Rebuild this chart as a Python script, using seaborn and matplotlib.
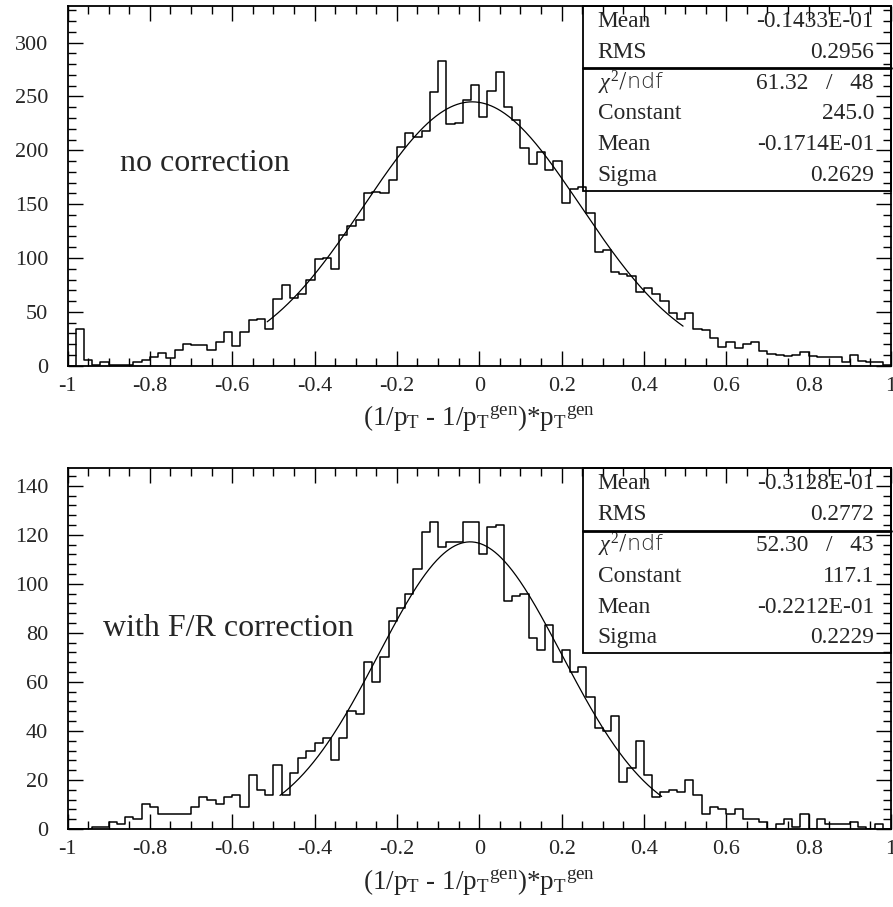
import numpy as np
import pandas as pd
import matplotlib
matplotlib.use("Agg")
import matplotlib.pyplot as plt
import seaborn as sns
from matplotlib.patches import Rectangle
from matplotlib.ticker import MultipleLocator, FuncFormatter

sns.set_style("ticks")
plt.rcParams["font.family"] = ["Liberation Serif", "DejaVu Serif"]
plt.rcParams["mathtext.fontset"] = "custom"
plt.rcParams["mathtext.rm"] = "Liberation Serif"
plt.rcParams["mathtext.it"] = "Liberation Serif:italic"
plt.rcParams["mathtext.bf"] = "Liberation Serif:bold"
plt.rcParams["axes.unicode_minus"] = False

# 100 bins of width 0.02 on [-1, 1]
bin_edges = [round(-1.0 + 0.02 * i, 2) for i in range(101)]
bin_centers = [round(-0.99 + 0.02 * i, 3) for i in range(100)]

counts_nocorr = [
    0, 34, 5, 1, 3, 1, 1, 1, 3, 5,
    8, 12, 7, 15, 20, 19, 19, 15, 22, 31,
    18, 31, 42, 43, 34, 62, 75, 63, 67, 80,
    99, 100, 90, 121, 130, 135, 160, 161, 160, 172,
    203, 216, 212, 218, 254, 283, 224, 225, 247, 261,
    231, 255, 273, 240, 228, 202, 187, 198, 182, 190,
    151, 164, 166, 142, 106, 107, 87, 85, 83, 68,
    72, 67, 60, 49, 43, 49, 34, 33, 26, 17,
    22, 16, 20, 22, 14, 11, 10, 9, 10, 13,
    9, 8, 8, 8, 3, 10, 4, 3, 3, 1,
]

counts_frcorr = [
    0, 0, 0, 1, 1, 3, 2, 5, 4, 10,
    9, 6, 6, 6, 6, 9, 13, 12, 10, 13,
    14, 9, 22, 16, 14, 26, 14, 23, 29, 32,
    35, 37, 28, 37, 48, 47, 68, 60, 70, 85,
    90, 96, 106, 121, 125, 115, 117, 117, 125, 125,
    112, 123, 124, 93, 95, 96, 78, 73, 83, 68,
    73, 64, 66, 54, 41, 40, 46, 19, 25, 36,
    22, 13, 15, 16, 15, 20, 14, 6, 9, 8,
    6, 8, 4, 4, 3, 0, 2, 4, 1, 6,
    0, 4, 2, 2, 2, 3, 1, 0, 2, 0,
]

# Gaussian fit parameters: constant, mean, sigma
fit_nocorr = [245.0, -0.01714, 0.2629]
fit_frcorr = [117.1, -0.02212, 0.2229]
fit_range_nocorr = [-0.515, 0.495]
fit_range_frcorr = [-0.484, 0.443]

stat_names = ["Mean", "RMS", r"$\chi^{2}$/ndf", "Constant", "Mean", "Sigma"]
stat_values_nocorr = ["-0.1433E-01", "0.2956", "61.32   /   48", "245.0", "-0.1714E-01", "0.2629"]
stat_values_frcorr = ["-0.3128E-01", "0.2772", "52.30   /   43", "117.1", "-0.2212E-01", "0.2229"]

panel_labels = ["no correction", "with F/R correction"]
x_title = (r"(1/p$_\mathregular{T}$ - 1/p$_\mathregular{T}$$^\mathregular{gen}$)"
           r"*p$_\mathregular{T}$$^\mathregular{gen}$")

W, H = 893, 907
fig = plt.figure(figsize=(W / 100, H / 100), dpi=100)


def axes_rect(left_px, right_px, top_px, bottom_px):
    return [left_px / W, 1 - bottom_px / H, (right_px - left_px) / W, (bottom_px - top_px) / H]


ax_top = fig.add_axes(axes_rect(67.5, 891, 6, 365.7))
ax_bot = fig.add_axes(axes_rect(67.5, 891, 468.3, 829))


def fmt(v, _pos):
    v = round(v, 6)
    if v == 0:
        return "0"
    return f"{v:g}"


def draw_panel(ax, counts, fit, fit_range, ymax, ymajor, yminor, label, label_xy,
               values, box_bottom, sep_y):
    df = pd.DataFrame({"x": bin_centers, "n": counts})
    sns.histplot(data=df, x="x", weights="n", bins=bin_edges, element="step",
                 fill=False, color="black", linewidth=1.1, ax=ax)

    c, mu, sig = fit
    xs = np.linspace(fit_range[0], fit_range[1], 400)
    ys = c * np.exp(-0.5 * ((xs - mu) / sig) ** 2)
    ax.plot(xs, ys, color="black", lw=0.9)

    ax.set_xlim(-1, 1)
    ax.set_ylim(0, ymax)
    ax.set_xlabel("")
    ax.set_ylabel("")
    ax.xaxis.set_major_locator(MultipleLocator(0.2))
    ax.xaxis.set_minor_locator(MultipleLocator(0.05))
    ax.yaxis.set_major_locator(MultipleLocator(ymajor))
    ax.yaxis.set_minor_locator(MultipleLocator(yminor))
    ax.xaxis.set_major_formatter(FuncFormatter(fmt))
    ax.yaxis.set_major_formatter(FuncFormatter(fmt))
    ax.tick_params(which="both", direction="in", top=True, right=True,
                   width=1.0, color="black")
    ax.tick_params(which="major", length=11)
    ax.tick_params(which="minor", length=5.8)
    ax.tick_params(axis="x", which="major", labelsize=16, pad=8)
    ax.tick_params(axis="y", which="major", labelsize=16, pad=14)
    for s in ax.spines.values():
        s.set_linewidth(1.3)
        s.set_color("black")

    ax.text(label_xy[0], label_xy[1], label, transform=ax.transAxes,
            fontsize=23, ha="left", va="center")

    ax.text(0.5, -0.165, x_title, transform=ax.transAxes, fontsize=19.5,
            ha="center", va="baseline")

    # statistics box
    bx = 0.6256
    ax.add_patch(Rectangle((bx, box_bottom), 1 - bx, 1 - box_bottom,
                           transform=ax.transAxes, fill=False, lw=1.3,
                           edgecolor="black", clip_on=False, zorder=5))
    ax.plot([bx, 1], [sep_y, sep_y], transform=ax.transAxes, color="black",
            lw=2.0, clip_on=False, zorder=5)
    rh = (1 - box_bottom) / 6
    for i, (name, val) in enumerate(zip(stat_names, values)):
        yc = 1 - (i + 0.5) * rh
        if i == 2:
            ax.text(0.644, yc, name, transform=ax.transAxes, fontsize=16,
                    family=["DejaVu Sans"], fontweight="light",
                    ha="left", va="center")
        else:
            ax.text(0.644, yc, name, transform=ax.transAxes, fontsize=16.8,
                    ha="left", va="center")
        ax.text(0.9794, yc, val, transform=ax.transAxes, fontsize=16.8,
                ha="right", va="center")


draw_panel(ax_top, counts_nocorr, fit_nocorr, fit_range_nocorr, 334, 50, 10,
           panel_labels[0], (0.0638, 0.5635), stat_values_nocorr, 0.4857, 0.8285)
draw_panel(ax_bot, counts_frcorr, fit_frcorr, fit_range_frcorr, 147.1, 20, 4,
           panel_labels[1], (0.0431, 0.557), stat_values_frcorr, 0.4871, 0.8262)

fig.savefig("out.png", dpi=100, facecolor="white")
